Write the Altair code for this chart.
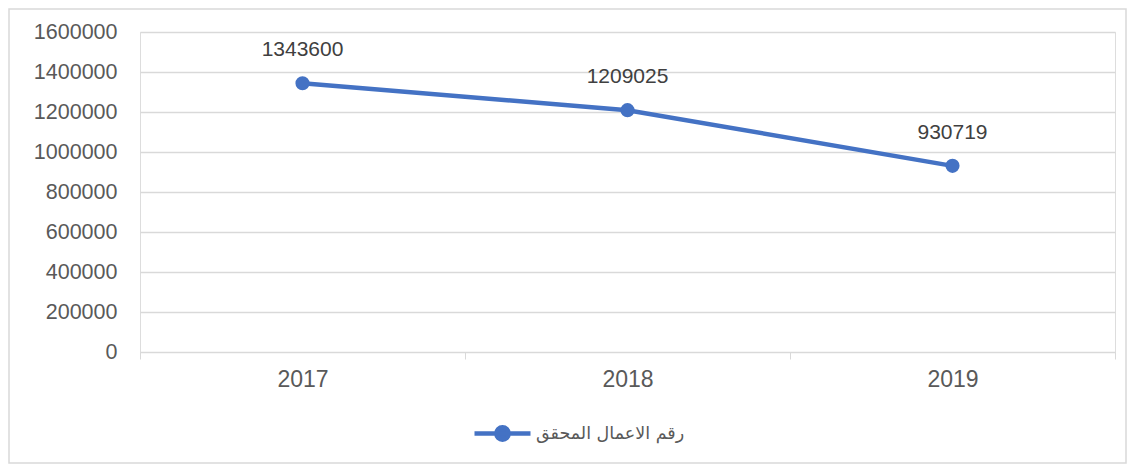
import altair as alt
import pandas as pd

years = ["2017", "2018", "2019"]
values = [1343600, 1209025, 930719]
series_name = "رقم الاعمال المحقق"
y_ticks = [0, 200000, 400000, 600000, 800000, 1000000, 1200000, 1400000, 1600000]

df = pd.DataFrame({"year": years, "value": values, "series": [series_name] * len(years)})

BLUE = "#4472C4"
GRID = "#d9d9d9"
FONT = "Liberation Sans"

x_enc = alt.X("year:N", sort=years,
              scale=alt.Scale(type="band", paddingInner=0, paddingOuter=0),
              axis=alt.Axis(title=None, tickBand="extent", labelAngle=0,
                            domainColor=GRID, tickColor=GRID, tickSize=7,
                            labelFontSize=23, labelColor="#595959", labelFont=FONT,
                            labelPadding=9, grid=False))
y_enc = alt.Y("value:Q", scale=alt.Scale(domain=[0, 1600000], nice=False),
              axis=alt.Axis(title=None, values=y_ticks, format="d", ticks=False,
                            domain=False, gridColor=GRID, gridWidth=1.3,
                            labelFontSize=21.5, labelColor="#595959", labelFont=FONT,
                            labelPadding=23))

legend_path = "M-1,0L1,0M-0.22,0A0.22,0.22 0 1,1 0.22,0A0.22,0.22 0 1,1 -0.22,0Z"

color_enc = alt.Color("series:N", scale=alt.Scale(range=[BLUE]),
                      legend=alt.Legend(title=None, orient="none", legendX=332, legendY=371,
                                        symbolType=legend_path, symbolSize=3136,
                                        symbolStrokeWidth=4.5, symbolFillColor=BLUE,
                                        symbolStrokeColor=BLUE, labelLimit=500,
                                        labelFontSize=17.5, labelColor="#595959",
                                        labelFont="DejaVu Sans", labelOffset=3))

base = alt.Chart(df)
line = base.mark_line(strokeWidth=4.5).encode(x=x_enc, y=y_enc, color=color_enc)
points = base.mark_point(filled=True, size=200, opacity=1, color=BLUE).encode(x=x_enc, y=y_enc)
labels = base.mark_text(dy=-33, fontSize=21, color="#404040", font=FONT).encode(
    x=x_enc, y=y_enc, text=alt.Text("value:Q", format="d"))

frame = alt.Chart(alt.Data(values=[{"a": 1}])).mark_rect(fill=None, stroke=GRID, strokeWidth=1.5).encode(
    x=alt.value(-131), x2=alt.value(986), y=alt.value(-23), y2=alt.value(431))

chart = alt.layer(frame, line, points, labels).properties(
    width=975, height=320, autosize=alt.AutoSizeParams(type="none"),
    padding={"left": 132, "top": 24, "right": 12, "bottom": 112}
).configure_view(stroke=None).configure(background="white")

chart.save("out.html", embed_options={"renderer": "svg", "actions": False})
